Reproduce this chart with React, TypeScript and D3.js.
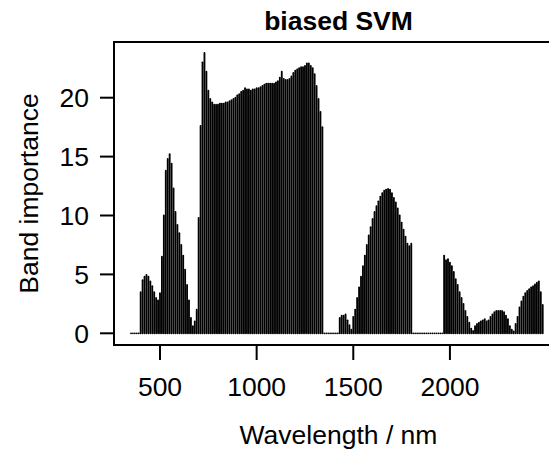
import React from "react";
import * as d3 from "d3";

// Band importance per 10 nm band, starting at 350 nm
const firstWavelength = 350;
const bandStep = 10;
const visImportance = [0, 0, 0, 0, 0, 3.5, 4.5, 4.8, 4.95, 4.8, 4.4, 4.0, 3.5, 3.0, 2.8, 3.4, 6.5, 10.0, 13.8, 14.8, 15.2, 14.4, 12.3, 10.3, 9.2, 8.5, 7.5, 6.6, 5.4, 4.1, 2.8, 1.3, 0.6, 1.0, 2.0, 9.8];
const nirImportance = [17.6, 23.0, 23.8, 22.2, 20.6, 19.9, 19.6, 19.4, 19.4, 19.4, 19.5, 19.5, 19.5, 19.6, 19.6, 19.7, 19.8, 19.9, 20.0, 20.2, 20.3, 20.5, 20.6, 20.8, 20.7, 20.7, 20.6, 20.7, 20.7, 20.8, 20.8, 20.9, 21.0, 21.1, 21.2, 21.2, 21.2, 21.2, 21.2, 21.3, 21.4, 21.7, 22.2, 21.6, 21.5, 21.5, 21.6, 21.8, 22.1, 22.3, 22.4, 22.5, 22.6, 22.6, 22.7, 22.9, 22.9, 22.7, 22.5, 22.0, 21.0, 19.9, 18.8, 17.5];
const swir1Importance = [0, 0, 0, 0, 0, 0, 0, 0, 1.3, 1.5, 1.5, 1.6, 1.1, 0.7, 0.3, 1.4, 2.0, 3.0, 3.9, 4.8, 5.7, 6.6, 7.5, 8.3, 9.0, 9.7, 10.3, 10.8, 11.2, 11.6, 11.9, 12.1, 12.2, 12.25, 12.2, 11.9, 11.5, 11.1, 10.6, 10.0, 9.4, 8.8, 8.2, 7.6, 7.4, 7.6];
const swir2Importance = [0, 0, 0, 0, 0, 0, 0, 0, 0, 0, 0, 0, 0, 0, 0, 0, 6.6, 6.2, 6.3, 6.0, 5.7, 5.2, 4.6, 4.1, 3.5, 3.0, 2.5, 1.9, 1.4, 0.9, 0.4, 0.2, 0.6, 0.8, 0.9, 1.0, 1.1, 1.2, 1.0, 1.1, 1.4, 1.6, 1.8, 1.9, 1.9, 1.9, 1.9, 1.8, 1.5, 1.2, 0.6, 0.3, 0.15, 0.8, 1.4, 2.2, 2.7, 3.1, 3.4, 3.6, 3.75, 3.9, 4.0, 4.15, 4.3, 4.4, 3.5, 2.4];

const xTicks = [500, 1000, 1500, 2000];
const yTicks = [0, 5, 10, 15, 20];
const title = "biased SVM";
const xLabel = "Wavelength / nm";
const yLabel = "Band importance";

const importance = [...visImportance, ...nirImportance, ...swir1Importance, ...swir2Importance];
const bands = importance.map((v, i) => ({ w: firstWavelength + i * bandStep, v }));

const W = 549;
const H = 451;
const box = { left: 114, right: 563, top: 42, bottom: 345 };
const font = "'Liberation Sans', Arial, Helvetica, sans-serif";
const fs = 26.5;

export default function App() {
  const x = d3.scaleLinear().domain([262, 2585]).range([box.left, box.right]);
  const y = d3.scaleLinear().domain([0, 20]).range([333.3, 97.7]);
  return (
    <svg width={W} height={H} style={{ position: "absolute", left: 0, top: 0, background: "#fff" }}>
      <rect x={0} y={0} width={W} height={H} fill="#fff" />
      <g stroke="#000" strokeWidth={1.85} strokeLinecap="round">
        {bands.map((b) => (
          <line key={b.w} x1={x(b.w)} x2={x(b.w)} y1={y(0)} y2={y(b.v)} />
        ))}
      </g>
      <rect x={box.left} y={box.top} width={box.right - box.left} height={box.bottom - box.top} fill="none" stroke="#000" strokeWidth={2} />
      {xTicks.map((t) => (
        <g key={t}>
          <line x1={x(t)} x2={x(t)} y1={box.bottom} y2={box.bottom + 15} stroke="#000" strokeWidth={2} />
          <text x={x(t)} y={396} textAnchor="middle" fontFamily={font} fontSize={fs} fill="#000">{t}</text>
        </g>
      ))}
      {yTicks.map((t) => (
        <g key={t}>
          <line x1={box.left} x2={box.left - 14} y1={y(t)} y2={y(t)} stroke="#000" strokeWidth={2} />
          <text x={89} y={y(t)} dy="0.35em" textAnchor="end" fontFamily={font} fontSize={fs} fill="#000">{t}</text>
        </g>
      ))}
      <text x={(box.left + box.right) / 2} y={29.5} textAnchor="middle" fontFamily={font} fontSize={fs} fontWeight="bold" fill="#000">{title}</text>
      <text x={(box.left + box.right) / 2} y={444} textAnchor="middle" fontFamily={font} fontSize={fs} fill="#000">{xLabel}</text>
      <text transform={`translate(38,${(box.top + box.bottom) / 2}) rotate(-90)`} textAnchor="middle" fontFamily={font} fontSize={fs} fill="#000">{yLabel}</text>
    </svg>
  );
}
